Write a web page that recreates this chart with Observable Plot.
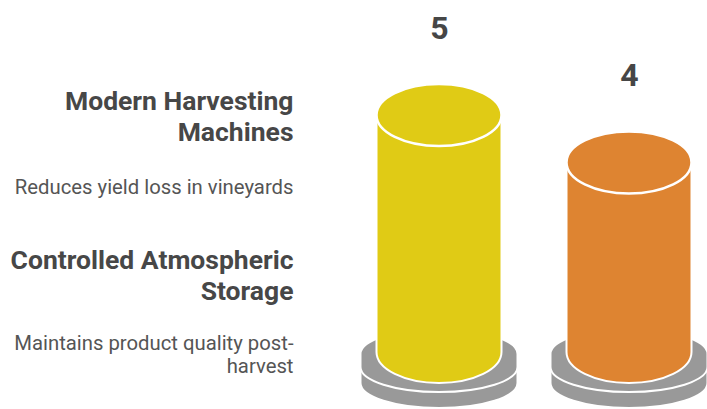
<!DOCTYPE html>
<html><head><meta charset="utf-8">
<script src="https://cdn.jsdelivr.net/npm/d3@7"></script>
<script src="https://cdn.jsdelivr.net/npm/@observablehq/plot@0.6"></script>
<style>body{margin:0;background:#fff;overflow:hidden}</style>
</head><body><div id="chart"></div>
<script>
const categories = ["Modern Harvesting Machines", "Controlled Atmospheric Storage"];
const values = [5, 4];
const valueLabels = ["5", "4"];
const titleLines = ["Modern Harvesting\nMachines", "Controlled Atmospheric\nStorage"];
const descriptions = ["Reduces yield loss in vineyards", "Maintains product quality post-\nharvest"];
const colors = ["#E0CB15", "#DE8431"];

const data = categories.map((c, i) => ({category: c, value: values[i], color: colors[i], label: valueLabels[i]}));

const W = 707, H = 409;
const RX = 62.5, RY = 31;        // body ellipse radii
const BRX = 78.5, BRY = 25;      // base discs radii
const TEXT_RIGHT = 293;

function ellipsePath(cx, cy, rx, ry) {
  return `M${cx - rx},${cy}A${rx},${ry} 0 1,0 ${cx + rx},${cy}A${rx},${ry} 0 1,0 ${cx - rx},${cy}Z`;
}
function cylPath(cx, ytop, ybot, rx, ry) {
  return `M${cx - rx},${ytop}L${cx - rx},${ybot}A${rx},${ry} 0 0,0 ${cx + rx},${ybot}L${cx + rx},${ytop}A${rx},${ry} 0 0,0 ${cx - rx},${ytop}Z`;
}

function cylinders(index, scales, vals) {
  const g = d3.create("svg:g");
  const base = scales.y(0);
  for (const i of index) {
    const cx = vals.x[i], top = vals.y[i];
    const col = data[i].color;
    // lower disc
    g.append("path").attr("d", cylPath(cx, base + 19, base + 31, BRX, BRY))
      .attr("fill", "#999").attr("stroke", "#fff").attr("stroke-width", 2);
    // upper disc
    g.append("path").attr("d", cylPath(cx, base + 2, base + 15, BRX, BRY))
      .attr("fill", "#999").attr("stroke", "#fff").attr("stroke-width", 2);
    // body
    g.append("path").attr("d", cylPath(cx, top, base, RX, RY))
      .attr("fill", col).attr("stroke", "#fff").attr("stroke-width", 2);
    g.append("path").attr("d", ellipsePath(cx, top, RX, RY))
      .attr("fill", col).attr("stroke", "#fff").attr("stroke-width", 2.5);
  }
  return g.node();
}

const titleFs = 26.5, subFs = 20.3;
const titleBaselines = [106, 265];
const subBaselines = [191, 347];

const textMarks = [];
titleLines.forEach((t, i) => {
  textMarks.push(Plot.text([t], {
    text: d => d, frameAnchor: "top-left", textAnchor: "end", lineAnchor: "top",
    dx: TEXT_RIGHT, dy: titleBaselines[i] - 0.71 * titleFs,
    fontSize: titleFs, fontWeight: 700, lineHeight: 1.18, fill: "#474747"
  }));
});
descriptions.forEach((t, i) => {
  textMarks.push(Plot.text([t], {
    text: d => d, frameAnchor: "top-left", textAnchor: "end", lineAnchor: "top",
    dx: TEXT_RIGHT, dy: subBaselines[i] - 0.71 * subFs,
    fontSize: subFs, fontWeight: 400, lineHeight: 1.15, fill: "#555"
  }));
});

const chart = Plot.plot({
  width: W, height: H,
  marginTop: 0, marginRight: 0, marginBottom: 0, marginLeft: 0,
  style: {fontFamily: "Roboto", background: "#fff", overflow: "visible"},
  x: {type: "point", domain: categories, range: [438.5, 629], padding: 0, axis: null},
  y: {domain: [0, 5], range: [352, 115], axis: null},
  marks: [
    Plot.dot(data, {x: "category", y: "value", render: cylinders}),
    Plot.text(data, {x: "category", y: "value", text: "label", lineAnchor: "bottom", dy: -77,
      fontSize: 32, fontWeight: 700, fill: "#464646"}),
    ...textMarks
  ]
});
document.getElementById("chart").appendChild(chart);
</script>
</body></html>
